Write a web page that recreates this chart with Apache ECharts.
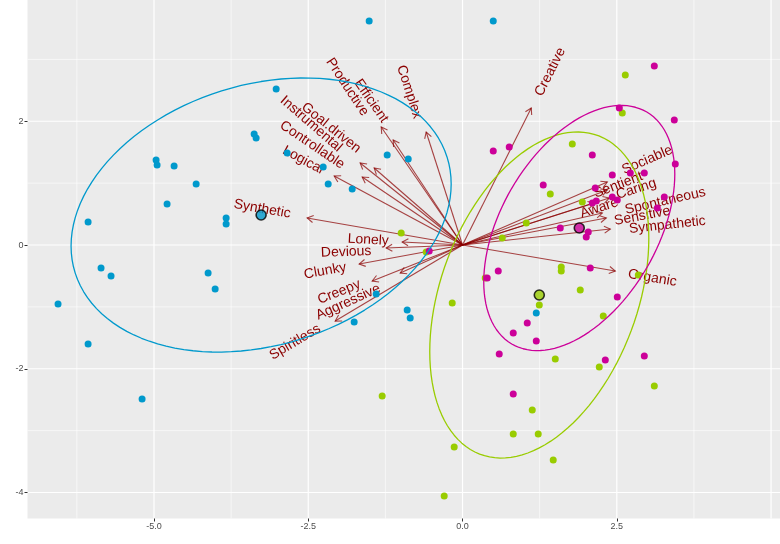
<!DOCTYPE html>
<html><head><meta charset="utf-8">
<script src="https://cdn.jsdelivr.net/npm/echarts@6/dist/echarts.min.js"></script>
<style>html,body{margin:0;padding:0;background:#fff}#c{width:780px;height:544px}</style>
</head><body><div id="c"></div>
<script>
// ---- axis ticks / grid lines ----
const xTickValues = [-5, -2.5, 0, 2.5];
const yTickValues = [-4, -2, 0, 2];
const xMajorGrid = [-5, -2.5, 0, 2.5, 5];
const xMinorGrid = [-6.25, -3.75, -1.25, 1.25, 3.75];
const yMajorGrid = [-4, -2, 0, 2];
const yMinorGrid = [-3, -1, 1, 3];

// ---- group scores ----
const blueX = [-1.513,0.498,-3.020,-3.377,-3.345,-4.966,-4.950,-4.674,-4.317,-4.788,-3.831,-3.831,-6.068,-5.858,-5.696,-4.123,-4.009,-6.555,-6.068,-5.193,-2.842,-2.258,-2.177,-1.788,-1.221,-0.880,-1.399,-0.897,-0.848,-1.756,1.195];
const blueY = [3.622,3.622,2.522,1.795,1.730,1.374,1.293,1.277,0.986,0.663,0.437,0.340,0.372,-0.372,-0.501,-0.453,-0.711,-0.954,-1.601,-2.490,1.487,1.261,0.986,0.905,1.455,1.390,-0.792,-1.051,-1.180,-1.245,-1.099];
const greenX = [2.638,2.589,1.779,1.422,1.941,1.033,0.644,-0.994,-0.589,-0.167,1.600,1.600,1.908,1.244,2.281,1.503,2.216,3.108,1.130,0.822,1.227,-0.135,1.470,-0.297,0.368,-1.302,2.849];
const greenY = [2.749,2.134,1.633,0.825,0.695,0.356,0.113,0.194,-0.113,-0.938,-0.356,-0.420,-0.728,-0.970,-1.148,-1.843,-1.973,-2.280,-2.668,-3.056,-3.056,-3.266,-3.476,-4.058,-0.534,-2.441,-0.485];
const magentaX = [3.108,2.541,3.432,0.498,0.757,2.103,3.448,1.308,2.427,2.719,2.946,2.151,2.427,2.508,2.103,2.168,3.270,3.157,1.584,2.038,2.005,2.070,0.579,0.400,2.508,1.049,0.822,1.195,0.595,2.314,2.946,0.822,-0.540];
const magentaY = [2.894,2.215,2.021,1.520,1.584,1.455,1.310,0.970,1.132,1.164,1.164,0.922,0.776,0.728,0.679,0.711,0.776,0.598,0.275,0.210,0.129,-0.372,-0.420,-0.534,-0.841,-1.261,-1.423,-1.552,-1.762,-1.859,-1.795,-2.409,-0.097];

// ---- group centroids (blue, green, magenta) ----
const centroidX = [-3.264, 1.244, 1.892];
const centroidY = [0.485, -0.808, 0.275];

// ---- confidence ellipses (blue, green, magenta) ----
const ellipseHalfWidth = [3.080, 1.775, 1.548];
const ellipseHalfHeight = [2.215, 2.635, 1.981];
const ellipseTopShift = [0.697, 0.616, 0.681];

// ---- loadings ----
const loadingNames = ['Creative','Complex','Efficient','Productive','Goal.driven','Instrumental','Controllable','Logical','Synthetic','Lonely','Devious','Clunky','Creepy','Aggressive','Spiritless','Sociable','Sentient','Caring','Aware','Spontaneous','Sensitive','Sympathetic','Organic'];
const loadingX = [1.114,-0.589,-1.318,-1.124,-1.659,-1.432,-1.626,-2.080,-2.518,-0.978,-1.237,-1.675,-1.464,-1.010,-2.064,2.346,2.346,2.378,2.135,2.265,2.330,2.395,2.476];
const loadingY = [2.215,1.827,1.908,1.698,1.326,1.245,1.099,1.116,0.437,0.049,-0.049,-0.307,-0.582,-0.453,-1.229,1.019,0.889,0.760,0.679,0.517,0.437,0.259,-0.420];
const labelX = [1.422,-0.864,-1.480,-1.869,-2.129,-2.453,-2.437,-2.583,-3.247,-1.529,-1.886,-2.226,-1.999,-1.853,-2.712,2.994,2.524,2.816,2.216,3.286,2.913,3.319,3.076];
const labelY = [2.797,2.474,2.328,2.555,1.892,1.956,1.617,1.374,0.582,0.081,-0.113,-0.420,-0.760,-0.922,-1.568,1.374,0.970,0.905,0.598,0.711,0.469,0.323,-0.534];

const groupColors = ['#0099CC', '#99CC00', '#CC0099'];

function zip(xs, ys) { return xs.map((x, i) => [x, ys[i]]); }
function ellipsePath(i) {
  const pts = [];
  const hx = ellipseHalfWidth[i], hy = ellipseHalfHeight[i];
  const a = ellipseTopShift[i] * hy / hx;
  const b = Math.sqrt(hy * hy - a * a);
  for (let k = 0; k <= 120; k++) {
    const t = 2 * Math.PI * k / 120;
    pts.push([centroidX[i] + hx * Math.cos(t), centroidY[i] + a * Math.cos(t) + b * Math.sin(t)]);
  }
  return pts;
}

const chart = echarts.init(document.getElementById('c'));
const gridLineX = xMajorGrid.map(v => [v, 0, 1.2]).concat(xMinorGrid.map(v => [v, 0, 0.6]));
const gridLineY = yMajorGrid.map(v => [0, v, 1.2]).concat(yMinorGrid.map(v => [0, v, 0.6]));

const series = [];
series.push({
  type: 'custom', silent: true, z: 0, data: gridLineX,
  renderItem: (params, api) => {
    const c = api.coord([api.value(0), 0]); const cs = params.coordSys;
    return { type: 'line', shape: { x1: c[0], y1: cs.y, x2: c[0], y2: cs.y + cs.height }, style: { stroke: '#fff', lineWidth: api.value(2) } };
  }
});
series.push({
  type: 'custom', silent: true, z: 0, data: gridLineY,
  renderItem: (params, api) => {
    const c = api.coord([0, api.value(1)]); const cs = params.coordSys;
    return { type: 'line', shape: { x1: cs.x, y1: c[1], x2: cs.x + cs.width, y2: c[1] }, style: { stroke: '#fff', lineWidth: api.value(2) } };
  }
});
// arrows
series.push({
  type: 'custom', silent: true, z: 1, data: zip(loadingX, loadingY),
  renderItem: (params, api) => {
    const o = api.coord([0, 0]); const p = api.coord([api.value(0), api.value(1)]);
    const ang = Math.atan2(p[1] - o[1], p[0] - o[0]);
    const L = 7, s = Math.PI / 6;
    const h1 = [p[0] - L * Math.cos(ang - s), p[1] - L * Math.sin(ang - s)];
    const h2 = [p[0] - L * Math.cos(ang + s), p[1] - L * Math.sin(ang + s)];
    const st = { stroke: 'rgba(139,0,0,0.72)', lineWidth: 1.1, fill: null };
    return { type: 'group', children: [
      { type: 'line', shape: { x1: o[0], y1: o[1], x2: p[0], y2: p[1] }, style: st },
      { type: 'polyline', shape: { points: [h1, p, h2] }, style: st }
    ] };
  }
});
// labels
series.push({
  type: 'custom', silent: true, z: 2,
  data: labelX.map((x, i) => [x, labelY[i], loadingX[i], loadingY[i]]),
  renderItem: (params, api) => {
    const i = params.dataIndex;
    const c = api.coord([api.value(0), api.value(1)]);
    const o = api.coord([0, 0]); const p = api.coord([api.value(2), api.value(3)]);
    let ang = Math.atan2(-(p[1] - o[1]), p[0] - o[0]) * 180 / Math.PI;
    if (ang > 90) ang -= 180; if (ang < -90) ang += 180;
    return { type: 'text', x: c[0], y: c[1], rotation: ang * Math.PI / 180,
      style: { text: loadingNames[i], fill: '#8B0000', font: '14px "Liberation Sans", Arial, sans-serif', align: 'center', verticalAlign: 'middle' } };
  }
});
// points
[[blueX, blueY], [greenX, greenY], [magentaX, magentaY]].forEach((g, i) => {
  series.push({ type: 'scatter', z: 3, symbolSize: 7, silent: true, data: zip(g[0], g[1]), itemStyle: { color: groupColors[i], opacity: 1 } });
});
// ellipses
[0, 1, 2].forEach(i => {
  series.push({ type: 'line', z: 4, silent: true, showSymbol: false, symbol: 'none', data: ellipsePath(i), lineStyle: { color: groupColors[i], width: 1.3 } });
});
// centroids
series.push({ type: 'scatter', z: 5, silent: true, symbolSize: 10,
  data: centroidX.map((x, i) => ({ value: [x, centroidY[i]], itemStyle: { color: groupColors[i], borderColor: '#000', borderWidth: 1.6 } })) });

chart.setOption({
  animation: false,
  grid: { left: 27.5, right: 0, top: 0, bottom: 25.5, show: true, backgroundColor: '#EBEBEB', borderWidth: 0 },
  xAxis: { type: 'value', min: -7.05, max: 5.145, position: 'bottom',
    splitLine: { show: false }, axisLine: { show: false, onZero: false },
    axisTick: { show: true, customValues: xTickValues, length: 3, lineStyle: { color: '#333', width: 1 } },
    axisLabel: { customValues: xTickValues, formatter: v => Number(v).toFixed(1), color: '#4D4D4D', fontSize: 9, margin: 4, fontFamily: '"Liberation Sans", Arial, sans-serif' } },
  yAxis: { type: 'value', min: -4.42, max: 3.96, position: 'left',
    splitLine: { show: false }, axisLine: { show: false, onZero: false },
    axisTick: { show: true, customValues: yTickValues, length: 3, lineStyle: { color: '#333', width: 1 } },
    axisLabel: { customValues: yTickValues, formatter: v => String(Math.round(v)), color: '#4D4D4D', fontSize: 9, margin: 4, fontFamily: '"Liberation Sans", Arial, sans-serif' } },
  series: series
});
</script></body></html>
